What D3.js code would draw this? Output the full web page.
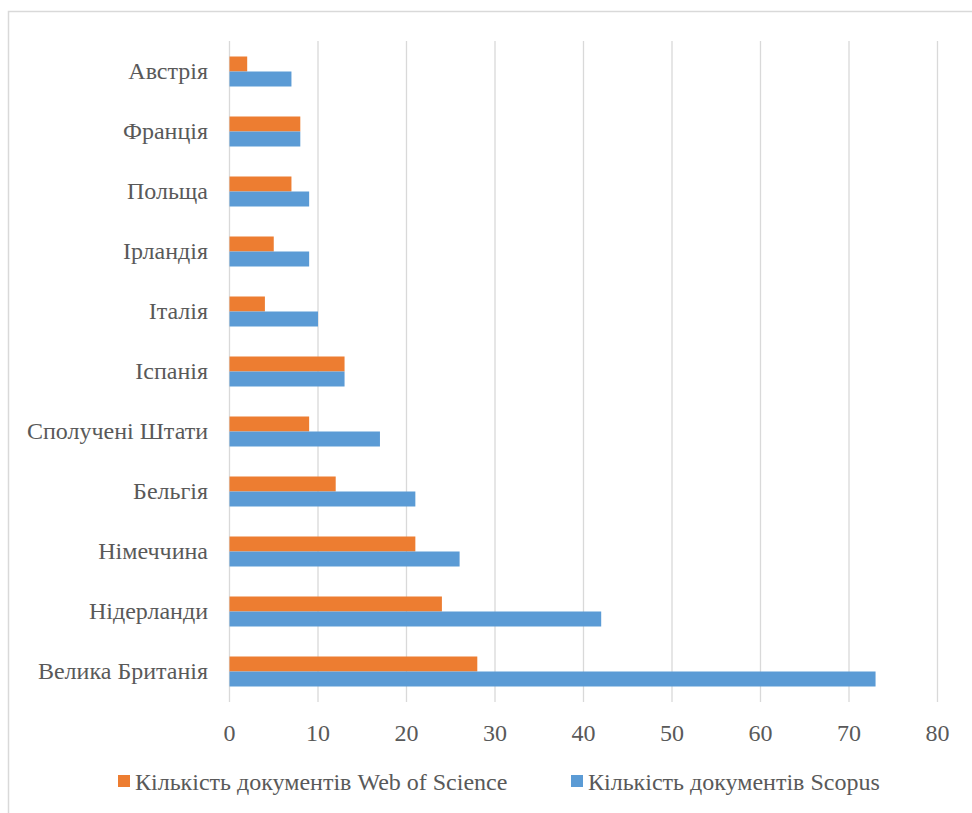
<!DOCTYPE html>
<html><head><meta charset="utf-8">
<script src="https://cdn.jsdelivr.net/npm/d3@7"></script>
<style>html,body{margin:0;padding:0;background:#fff;}svg{display:block;} text{font-family:"Liberation Serif","Tinos","Times New Roman",serif;}</style>
</head><body>
<script>
const categories = ["Австрія","Франція","Польща","Ірландія","Італія","Іспанія","Сполучені Штати","Бельгія","Німеччина","Нідерланди","Велика Британія"];
const wosValues = [2,8,7,5,4,13,9,12,21,24,28];
const scopusValues = [7,8,9,9,10,13,17,21,26,42,73];
const seriesNames = ["Кількість документів Web of Science","Кількість документів Scopus"];
const xTicks = [0,10,20,30,40,50,60,70,80];
const colors = ["#ED7D31","#5B9BD5"];

const W = 972, H = 813;
const fs = 24;
const svg = d3.select("body").append("svg").attr("width", W).attr("height", H);
svg.append("rect").attr("x",8.5).attr("y",11.5).attr("width",W+10).attr("height",H+10)
  .attr("fill","#fff").attr("stroke","#D9D9D9").attr("stroke-width",1.5);

const x = d3.scaleLinear().domain([0,80]).range([229.5,937.5]);
const y = d3.scaleBand().domain(categories).range([41.5,701.5]).paddingInner(0.5).paddingOuter(0.25);
const sub = d3.scaleBand().domain([0,1]).range([0,y.bandwidth()]);

svg.append("g").selectAll("line").data(xTicks).join("line")
  .attr("x1",d=>x(d)).attr("x2",d=>x(d)).attr("y1",41).attr("y2",702)
  .attr("stroke","#D9D9D9").attr("stroke-width",1.3);

const series = [wosValues, scopusValues];
series.forEach((vals,si)=>{
  svg.append("g").selectAll("rect").data(categories).join("rect")
    .attr("x",x(0)).attr("y",(c)=>y(c)+sub(si))
    .attr("width",(c,i)=>x(vals[i])-x(0)).attr("height",sub.bandwidth())
    .attr("fill",colors[si]);
});

svg.append("g").selectAll("text").data(categories).join("text")
  .attr("x",208).attr("y",c=>y(c)+y.bandwidth()/2).attr("dy","0.32em")
  .attr("text-anchor","end").attr("font-size",fs)
  .attr("fill","#595959").text(d=>d);

svg.append("g").selectAll("text").data(xTicks).join("text")
  .attr("x",d=>x(d)).attr("y",741).attr("text-anchor","middle")
  .attr("font-size",fs).attr("fill","#595959").text(d=>d);

const legX = [118, 571];
seriesNames.forEach((n,i)=>{
  svg.append("rect").attr("x",legX[i]).attr("y",775).attr("width",12).attr("height",12).attr("fill",colors[i]);
  svg.append("text").attr("x",legX[i]+17).attr("y",790).attr("font-size",fs)
    .attr("fill","#595959").text(n);
});
</script>
</body></html>
